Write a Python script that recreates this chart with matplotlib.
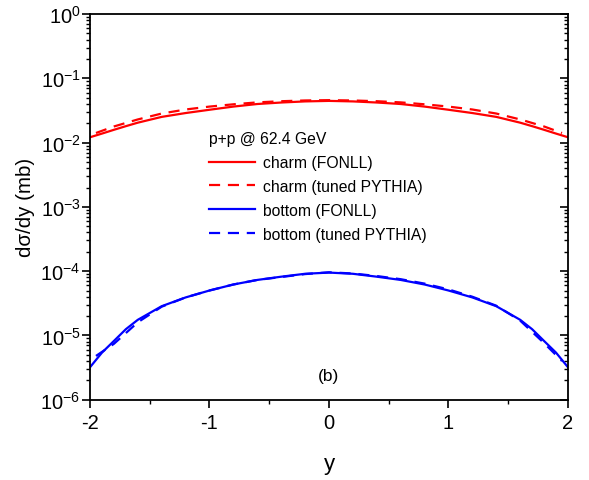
import numpy as np
import matplotlib
matplotlib.use('Agg')
import matplotlib.pyplot as plt
from matplotlib.ticker import LogLocator, MultipleLocator, NullFormatter

plt.rcParams['font.family'] = ['Liberation Sans', 'DejaVu Sans']
plt.rcParams['mathtext.fontset'] = 'custom'
plt.rcParams['mathtext.rm'] = 'Liberation Sans'
plt.rcParams['mathtext.it'] = 'Liberation Sans:italic'
plt.rcParams['axes.unicode_minus'] = False

# rapidity grid for FONLL curves
y_fonll = [-2.0, -1.9, -1.8, -1.7, -1.6, -1.4, -1.2, -1.0, -0.8, -0.6, -0.4, -0.2, 0.0,
           0.2, 0.4, 0.6, 0.8, 1.0, 1.2, 1.4, 1.6, 1.7, 1.8, 1.9, 2.0]
charm_fonll = [0.0121, 0.0138, 0.0158, 0.0180, 0.0204, 0.0251, 0.0288, 0.0324, 0.0363,
               0.0398, 0.0420, 0.0437, 0.0445,
               0.0437, 0.0420, 0.0398, 0.0363, 0.0324, 0.0288, 0.0251, 0.0204, 0.0180,
               0.0158, 0.0138, 0.0121]
bottom_fonll = [3.2e-6, 5.4e-6, 8.2e-6, 1.25e-5, 1.75e-5, 2.85e-5, 3.9e-5, 5.0e-5, 6.2e-5,
                7.3e-5, 8.2e-5, 9.1e-5, 9.5e-5,
                9.1e-5, 8.2e-5, 7.3e-5, 6.2e-5, 5.0e-5, 3.9e-5, 2.85e-5, 1.75e-5, 1.25e-5,
                8.2e-6, 5.4e-6, 3.2e-6]

# tuned PYTHIA
y_pythia = [-1.95, -1.8, -1.6, -1.4, -1.2, -1.0, -0.8, -0.6, -0.4, -0.2, 0.0,
            0.2, 0.4, 0.6, 0.8, 1.0, 1.2, 1.4, 1.6, 1.8, 1.95]
charm_pythia = [0.0141, 0.0178, 0.0229, 0.0283, 0.0327, 0.0363, 0.0394, 0.0422, 0.0440,
                0.0452, 0.0457, 0.0452, 0.0440, 0.0422, 0.0394, 0.0363, 0.0327, 0.0283,
                0.0229, 0.0178, 0.0141]
bottom_pythia = [4.8e-6, 7.4e-6, 1.6e-5, 2.8e-5, 3.9e-5, 5.0e-5, 6.2e-5, 7.3e-5, 8.1e-5,
                 9.0e-5, 9.6e-5, 9.2e-5, 8.4e-5, 7.5e-5, 6.4e-5, 5.2e-5, 4.0e-5, 2.9e-5,
                 1.7e-5, 7.6e-6, 4.0e-6]

fig = plt.figure(figsize=(5.89, 4.81), dpi=100)
ax = fig.add_axes([0.1528, 0.1669, 0.8115, 0.8019])

dash = (0, (5, 3.5))
ax.plot(y_fonll, charm_fonll, color='red', lw=1.6, label='charm (FONLL)')
ax.plot(y_pythia, charm_pythia, color='red', lw=1.6, ls=dash, label='charm (tuned PYTHIA)')
ax.plot(y_fonll, bottom_fonll, color='blue', lw=1.6, label='bottom (FONLL)')
ax.plot(y_pythia, bottom_pythia, color='blue', lw=1.6, ls=dash, label='bottom (tuned PYTHIA)')

ax.set_yscale('log')
ax.set_xlim(-2, 2)
ax.set_ylim(1e-6, 1)
ax.xaxis.set_major_locator(MultipleLocator(1))
ax.xaxis.set_minor_locator(MultipleLocator(0.5))
ax.yaxis.set_major_locator(LogLocator(base=10, numticks=10))
ax.yaxis.set_minor_locator(LogLocator(base=10, subs=np.arange(2, 10), numticks=20))
ax.yaxis.set_minor_formatter(NullFormatter())

ax.tick_params(axis='both', which='major', direction='out', length=6, width=1.2,
               labelsize=14.5, colors='black')
ax.tick_params(axis='both', which='minor', direction='out', length=3, width=1.0)
ax.tick_params(axis='y', which='both', right=True)
ax.tick_params(axis='y', which='major', pad=0.8)
for sp in ax.spines.values():
    sp.set_linewidth(1.3)

# right axis ticks point inward
for t in ax.yaxis.get_major_ticks() + ax.yaxis.get_minor_ticks():
    t.tick2line.set_marker(matplotlib.lines.TICKLEFT)

ax.set_xlabel('y', fontsize=16, labelpad=15)
ax.set_ylabel('dσ/dy (mb)', fontsize=14.8, labelpad=4)

leg = ax.legend(title='p+p @ 62.4 GeV', loc='upper left',
                frameon=False, fontsize=11.3, title_fontsize=11.3, handlelength=2.9,
                handletextpad=0.55, labelspacing=0.56, alignment='left', borderaxespad=0)
leg.set_bbox_to_anchor((0.236, 0.712), transform=ax.transAxes)

ax.text(0.5, 0.064, '(b)', transform=ax.transAxes, ha='center', va='center', fontsize=12.5)

fig.savefig('out.png', dpi=100)
